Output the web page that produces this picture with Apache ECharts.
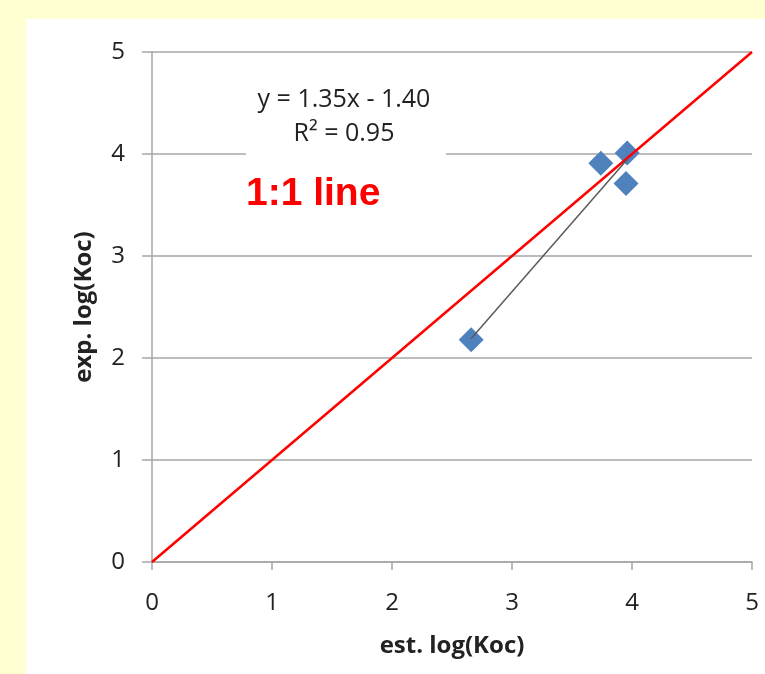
<!DOCTYPE html>
<html>
<head>
<meta charset="utf-8">
<script src="https://cdn.jsdelivr.net/npm/echarts@6/dist/echarts.min.js"></script>
<style>
html,body{margin:0;padding:0;background:#FFFFD2;}
#main{width:765px;height:674px;}
</style>
</head>
<body>
<div id="main"></div>
<script>
// 数据
var estLog = [2.66, 3.74, 3.96, 3.95];
var expLog = [2.18, 3.91, 4.01, 3.71];
var slope = 1.35, intercept = -1.40;
var oneToOne = [[0, 0], [5, 5]];
var tickVals = [0, 1, 2, 3, 4, 5];

var pts = [];
for (var i = 0; i < estLog.length; i++) pts.push([estLog[i], expLog[i]]);
var xMin = Math.min.apply(null, estLog), xMax = Math.max.apply(null, estLog);
var trend = [[xMin, slope * xMin + intercept], [xMax, slope * xMax + intercept]];

var myChart = echarts.init(document.getElementById('main'));
var gray = '#A6A6A6';
var ff = '"Open Sans", sans-serif';
var option = {
    backgroundColor: '#FFFFD2',
    animation: false,
    grid: { left: 152, right: 13, top: 52, bottom: 112 },
    graphic: [
        { type: 'rect', z: -10, silent: true, shape: { x: 26, y: 19, width: 760, height: 670 }, style: { fill: '#fff' } },
        { type: 'rect', z: 10, shape: { x: 246, y: 86, width: 200, height: 78 }, style: { fill: '#fff' } },
        { type: 'text', z: 11, x: 344, y: 87, style: { text: 'y = 1.35x - 1.40', align: 'center', font: '25px ' + ff, fill: '#222' } },
        { type: 'text', z: 11, x: 344, y: 121, style: { text: 'R² = 0.95', align: 'center', font: '25px ' + ff, fill: '#222' } },
        { type: 'text', z: 11, x: 246, y: 175, style: { text: '1:1 line', font: 'bold 39px "Liberation Sans", Arial, sans-serif', fill: '#FF0000' } }
    ],
    xAxis: {
        type: 'value', min: 0, max: 5, interval: 1,
        name: 'est. log(Koc)', nameLocation: 'middle', nameGap: 72,
        nameTextStyle: { fontSize: 24, fontWeight: 'bold', color: '#222', fontFamily: ff },
        axisLine: { show: true, onZero: false, lineStyle: { color: gray, width: 1.5 } },
        axisTick: { show: true, length: 8, lineStyle: { color: gray, width: 1.5 } },
        axisLabel: { margin: 29, fontSize: 24, color: '#222', fontFamily: ff, formatter: function (v) { return tickVals.indexOf(v) >= 0 ? String(v) : ''; } },
        splitLine: { show: false }
    },
    yAxis: {
        type: 'value', min: 0, max: 5, interval: 1,
        name: 'exp. log(Koc)', nameLocation: 'middle', nameGap: 56, nameRotate: 90,
        nameTextStyle: { fontSize: 24, fontWeight: 'bold', color: '#222', fontFamily: ff },
        axisLine: { show: true, onZero: false, lineStyle: { color: gray, width: 1.5 } },
        axisTick: { show: true, length: 10, lineStyle: { color: gray, width: 1.5 } },
        axisLabel: { margin: 27, fontSize: 24, color: '#222', fontFamily: ff },
        splitLine: { show: true, lineStyle: { color: gray, width: 1.5 } }
    },
    series: [
        {
            type: 'line', data: oneToOne, symbol: 'none', z: 3,
            lineStyle: { color: '#FF0000', width: 2.5 }
        },
        {
            type: 'scatter', data: pts, symbol: 'diamond', symbolSize: 25, z: 2,
            itemStyle: { color: '#4F81BD', opacity: 1 }
        },
        {
            type: 'line', data: trend, symbol: 'none', z: 4,
            lineStyle: { color: '#5A5A5A', width: 1.5 }
        }
    ]
};
myChart.setOption(option);
</script>
</body>
</html>
